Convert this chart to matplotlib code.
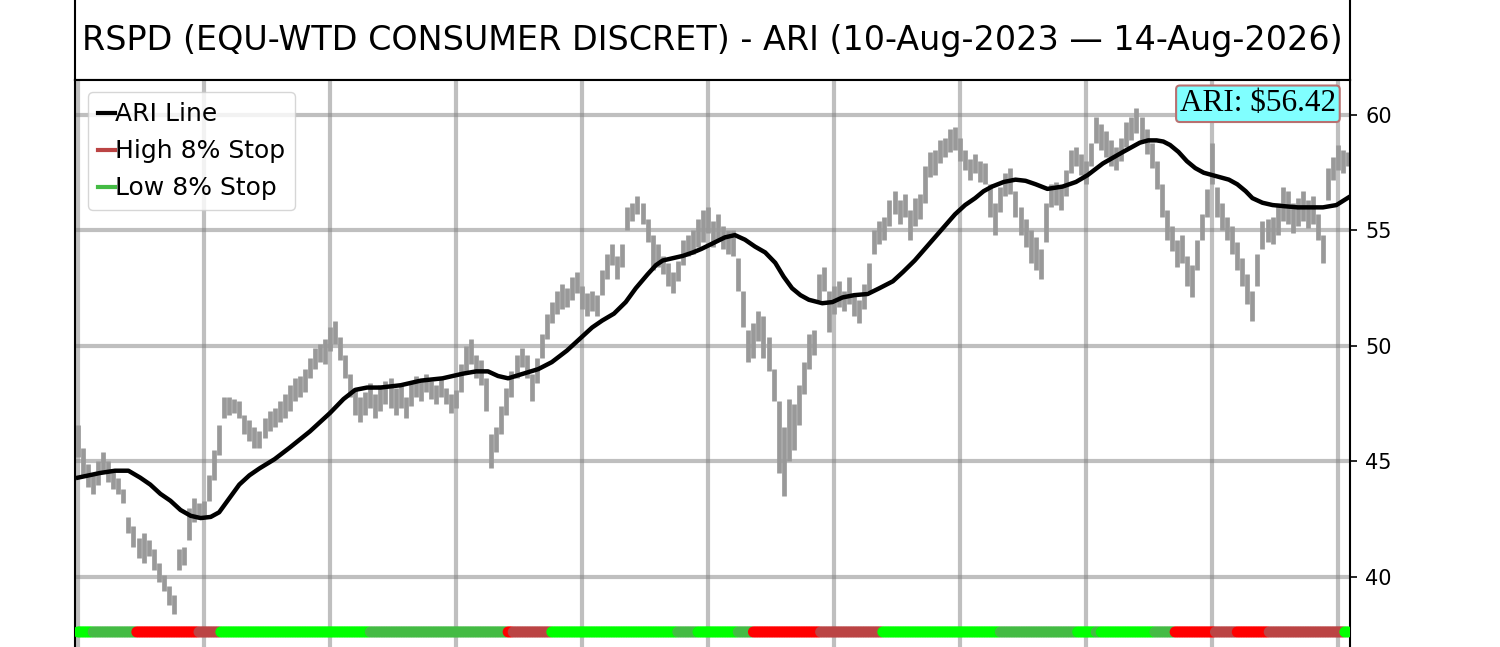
import numpy as np
import matplotlib
matplotlib.use("Agg")
import matplotlib.pyplot as plt
from matplotlib.ticker import MultipleLocator

title = "RSPD (EQU-WTD CONSUMER DISCRET) - ARI (10-Aug-2023 \u2014 14-Aug-2026)"
ari_label = "ARI: $56.42"

# price bars, every 3rd trading day (index 0..756)
bar_idx = np.arange(0, 757, 3)
bar_low = [
    45.2, 44.4, 43.9, 43.6, 44.0, 44.5, 44.1, 43.8, 43.6, 43.2,
    41.9, 41.3, 40.8, 40.6, 40.9, 40.3, 39.8, 39.4, 38.8, 38.4,
    40.3, 40.5, 41.6, 42.4, 42.5, 42.6, 43.3, 44.2, 45.3, 46.9,
    47.0, 47.1, 46.9, 46.2, 45.9, 45.6, 45.6, 46.0, 46.3, 46.5,
    46.7, 46.9, 47.2, 47.6, 47.8, 48.0, 48.6, 49.0, 49.3, 49.2,
    49.8, 50.1, 49.4, 48.6, 47.8, 47.0, 46.7, 47.0, 47.3, 46.9,
    47.2, 47.5, 47.3, 47.0, 47.3, 46.9, 47.4, 47.8, 47.6, 48.0,
    47.7, 47.5, 47.8, 47.5, 47.1, 47.3, 48.0, 48.8, 49.2, 48.6,
    48.3, 47.2, 44.7, 45.4, 46.2, 47.0, 47.8, 48.6, 49.1, 48.6,
    47.6, 48.4, 49.5, 50.3, 51.0, 51.4, 51.6, 51.7, 52.0, 52.3,
    51.6, 51.3, 51.5, 51.3, 52.2, 52.9, 53.5, 52.9, 53.4, 55.0,
    55.4, 55.7, 55.3, 54.5, 53.3, 53.4, 53.1, 52.6, 52.3, 52.8,
    53.5, 53.9, 54.0, 54.3, 54.5, 54.9, 54.3, 54.6, 54.2, 54.0,
    53.9, 52.4, 50.8, 49.3, 49.5, 50.2, 49.5, 48.9, 47.6, 44.5,
    43.5, 45.0, 45.5, 46.6, 47.9, 49.0, 49.6, 52.0, 52.4, 50.6,
    51.4, 51.7, 51.5, 51.8, 51.3, 51.0, 51.6, 52.4, 54.0, 54.4,
    54.6, 55.2, 55.7, 55.3, 55.6, 54.6, 55.2, 55.5, 56.2, 57.3,
    57.4, 57.9, 58.2, 58.4, 58.5, 58.0, 57.6, 57.2, 57.5, 57.1,
    57.0, 55.6, 54.8, 55.8, 56.5, 56.6, 55.6, 54.8, 54.3, 53.6,
    53.3, 52.9, 54.5, 56.0, 56.1, 55.9, 56.5, 57.5, 57.8, 57.4,
    57.0, 57.8, 58.8, 58.5, 58.2, 57.8, 57.6, 58.0, 58.6, 58.9,
    59.2, 58.9, 58.3, 57.7, 56.8, 55.6, 54.6, 54.1, 53.4, 53.6,
    52.6, 52.1, 53.3, 54.6, 55.6, 57.0, 55.6, 55.0, 54.6, 54.0,
    53.3, 52.6, 51.8, 51.1, 52.6, 54.2, 54.5, 54.4, 54.8, 55.4,
    55.3, 54.9, 55.2, 55.4, 55.1, 55.3, 54.6, 53.6, 56.3, 57.2,
    57.6, 57.5, 57.8,
]
bar_high = [
    46.6, 45.6, 44.9, 44.5, 45.0, 45.4, 45.0, 44.6, 44.3, 43.8,
    42.6, 42.2, 41.7, 41.9, 41.6, 41.2, 40.6, 40.1, 39.6, 39.2,
    41.2, 41.3, 43.0, 43.4, 43.2, 43.3, 44.4, 45.5, 46.6, 47.8,
    47.8, 47.7, 47.6, 47.0, 46.8, 46.5, 46.3, 46.9, 47.2, 47.3,
    47.6, 47.9, 48.3, 48.6, 48.7, 49.0, 49.5, 49.9, 50.1, 50.3,
    50.8, 51.1, 50.4, 49.6, 48.8, 48.2, 47.8, 48.0, 48.4, 47.9,
    48.3, 48.5, 48.6, 48.2, 48.3, 47.8, 48.4, 48.7, 48.5, 48.8,
    48.5, 48.3, 48.6, 48.2, 47.9, 48.1, 49.2, 50.0, 50.3, 49.6,
    49.4, 48.6, 46.2, 46.5, 47.4, 48.2, 48.9, 49.6, 49.9, 49.6,
    48.8, 49.5, 50.5, 51.4, 51.9, 52.4, 52.7, 52.5, 53.0, 53.2,
    52.6, 52.3, 52.4, 52.2, 53.3, 54.0, 54.4, 53.9, 54.4, 56.0,
    56.2, 56.5, 56.2, 55.5, 54.8, 54.4, 53.9, 53.6, 53.2, 53.7,
    54.6, 54.8, 55.0, 55.5, 55.9, 56.0, 55.4, 55.7, 55.2, 55.0,
    55.0, 53.8, 52.4, 50.7, 51.0, 51.5, 51.3, 50.4, 49.0, 47.6,
    46.5, 47.7, 47.5, 48.3, 49.3, 50.5, 50.7, 53.1, 53.4, 52.4,
    52.6, 52.8, 52.4, 53.0, 52.2, 52.0, 52.7, 53.6, 55.0, 55.4,
    55.6, 56.3, 56.7, 56.3, 56.6, 55.9, 56.4, 56.6, 57.8, 58.4,
    58.5, 58.9, 59.0, 59.4, 59.5, 59.0, 58.5, 58.1, 58.3, 58.0,
    57.9, 57.0, 56.2, 56.9, 57.5, 57.7, 56.7, 56.0, 55.5, 55.0,
    54.7, 54.2, 56.2, 57.0, 57.1, 56.9, 57.6, 58.5, 58.6, 58.3,
    58.0, 58.8, 59.9, 59.6, 59.3, 58.9, 58.6, 59.0, 59.7, 59.9,
    60.3, 59.9, 59.4, 58.8, 58.0, 57.0, 55.9, 55.2, 54.6, 54.8,
    53.9, 53.5, 54.6, 55.7, 56.8, 58.8, 56.9, 56.2, 55.6, 55.2,
    54.5, 53.8, 53.1, 52.4, 54.0, 55.4, 55.5, 55.6, 56.2, 56.9,
    56.7, 56.2, 56.4, 56.7, 56.3, 56.5, 55.7, 54.8, 57.7, 58.2,
    58.7, 58.5, 58.4,
]

# ARI line samples (trading-day index, value)
ari_idx = [0, 13, 22, 30, 37, 43, 49, 55, 61, 67, 73, 79, 84, 88, 92, 96,
           102, 108, 117, 126, 138, 150, 158, 165, 172, 180, 192, 204, 217,
           229, 237, 244, 250, 256, 265, 274, 282, 291, 300, 306, 312, 319,
           326, 332, 339, 344, 348, 354, 360, 366, 371, 378, 385, 391, 397,
           403, 409, 415, 420, 425, 430, 435, 443, 449, 455, 462, 470, 477,
           485, 491, 498, 504, 510, 516, 522, 528, 534, 539, 544, 551, 558,
           564, 570, 577, 586, 594, 601, 610, 616, 622, 627, 632, 637, 642,
           646, 650, 655, 660, 665, 670, 675, 680, 685, 690, 695, 699, 705,
           711, 718, 726, 733, 741, 749, 756]
ari_val = [44.3, 44.5, 44.6, 44.6, 44.3, 44.0, 43.6, 43.3, 42.9, 42.65, 42.55,
           42.6, 42.8, 43.2, 43.6, 44.0, 44.4, 44.7, 45.1, 45.6, 46.3, 47.1,
           47.7, 48.1, 48.2, 48.2, 48.3, 48.5, 48.6, 48.8, 48.9, 48.9, 48.7,
           48.6, 48.8, 49.0, 49.3, 49.8, 50.4, 50.8, 51.1, 51.4, 51.9, 52.5,
           53.1, 53.5, 53.7, 53.8, 53.9, 54.05, 54.2, 54.45, 54.7, 54.8, 54.6,
           54.3, 54.05, 53.6, 53.0, 52.5, 52.2, 52.0, 51.85, 51.9, 52.1, 52.2,
           52.25, 52.5, 52.8, 53.2, 53.7, 54.2, 54.7, 55.2, 55.7, 56.1, 56.4,
           56.7, 56.9, 57.1, 57.2, 57.15, 57.0, 56.8, 56.9, 57.1, 57.4, 57.9,
           58.15, 58.4, 58.6, 58.8, 58.9, 58.9, 58.85, 58.7, 58.4, 58.0, 57.7,
           57.5, 57.4, 57.3, 57.2, 57.0, 56.7, 56.4, 56.2, 56.1, 56.05, 56.0,
           56.0, 56.0, 56.1, 56.42]

# stop state runs: start index and state
run_start = [0, 9, 35, 72, 85, 174, 256, 259, 282, 357, 369, 393, 402, 442,
             479, 549, 595, 606, 609, 641, 653, 677, 690, 709, 754]
run_state = ["up", "low", "down", "high", "up", "low", "down", "high", "up",
             "low", "up", "low", "down", "high", "up", "low", "up", "low",
             "up", "low", "down", "high", "down", "high", "up"]
n_days = 757

state_colors = {"up": "#00ff00", "low": "#44bb44", "down": "#ff0000", "high": "#bb4444"}

dot_colors = []
for k, s in enumerate(run_state):
    end = run_start[k + 1] if k + 1 < len(run_start) else n_days
    dot_colors += [state_colors[s]] * (end - run_start[k])

fig = plt.figure(figsize=(15, 6.47), dpi=100)

# title box
tax = fig.add_axes([0.05, 0.8764, 0.85, 0.135])
tax.set_xticks([])
tax.set_yticks([])
for sp in tax.spines.values():
    sp.set_linewidth(1.5)
tax.text(0.5, 0.45, title, ha="center", va="center", fontsize=24,
         transform=tax.transAxes)

ax = fig.add_axes([0.05, -0.0819, 0.85, 0.9583])
ax.set_xlim(-1.8, 757.1)
ax.set_ylim(34.675, 61.515)
ax.xaxis.set_major_locator(MultipleLocator(75))
ax.set_yticks([40, 45, 50, 55, 60])
ax.grid(True, color="gray", alpha=0.5, linewidth=3)
ax.set_axisbelow(True)
ax.yaxis.tick_right()
ax.tick_params(axis="y", labelsize=15, length=5, width=1.2, pad=6)
ax.tick_params(axis="x", labelbottom=False, length=0)
for sp in ax.spines.values():
    sp.set_linewidth(1.5)

ax.vlines(bar_idx, bar_low, bar_high, color="#999999", linewidth=3.4, zorder=2)
ax.plot(ari_idx, ari_val, color="black", linewidth=3.2, zorder=3)
ax.scatter(np.arange(n_days), np.full(n_days, 37.62), c=dot_colors, s=62,
           linewidths=0, zorder=4)

ax.plot([], [], color="black", linewidth=3, label="ARI Line")
ax.plot([], [], color="#bb4444", linewidth=3, label="High 8% Stop")
ax.plot([], [], color="#44bb44", linewidth=3, label="Low 8% Stop")
ax.legend(loc="upper left", fontsize=18, handlelength=0.7, handletextpad=0.0,
          labelspacing=0.52)

ax.text(0.989, 0.985, ari_label, transform=ax.transAxes, ha="right", va="top",
        fontsize=22.5, family=["Liberation Serif", "DejaVu Serif"], zorder=5,
        bbox=dict(boxstyle="round,pad=0.12", facecolor="#80ffff",
                  edgecolor="#b87070", linewidth=1.5))

fig.savefig("out.png", dpi=100)
